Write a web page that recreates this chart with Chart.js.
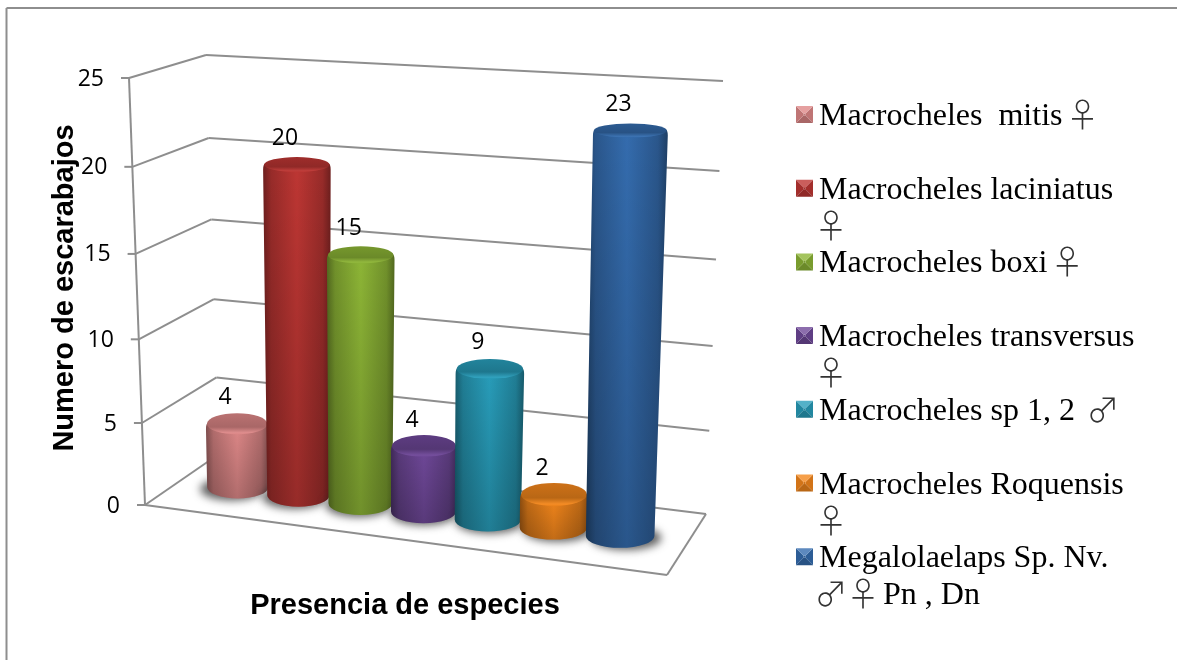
<!DOCTYPE html>
<html>
<head>
<meta charset="utf-8">
<script src="https://cdn.jsdelivr.net/npm/chart.js@4/dist/chart.umd.min.js"></script>
<style>
body { margin: 0; background: #fff; }
canvas { display: block; }
</style>
</head>
<body>
<canvas id="chart" width="1177" height="662"></canvas>
<script>
const legendLabels = [
    ['Macrocheles  mitis ♀'],
    ['Macrocheles laciniatus', '♀'],
    ['Macrocheles boxi ♀'],
    ['Macrocheles transversus', '♀'],
    ['Macrocheles sp 1, 2  ♂'],
    ['Macrocheles Roquensis', '♀'],
    ['Megalolaelaps Sp. Nv.', '♂ ♀ Pn , Dn']
];
const categories = legendLabels.map(l => l.join(' '));
const counts = [4, 20, 15, 4, 9, 2, 23];
const barColors = ['#de8888', '#bd3633', '#8db536', '#6f4899', '#289dba', '#f4871c', '#346cae'];
const yTicks = [0, 5, 10, 15, 20, 25];

const gridColor = '#8e8e8e';
const labelFont = '23px "Open Sans"';
const legendFont = '32px "Liberation Serif"';
const symbolFont = '300 33px "Noto Sans CJK JP"';
const axisFont = { family: 'Liberation Sans', size: 29, weight: 'bold' };

// corners of the 3d box, floor and top of each wall
const box = {
    frontLeft: [[145, 505], [129, 78]],
    backLeft: [[219, 454], [206, 55]],
    backRight: [[706, 514], [723, 81]],
    frontRight: [667, 575]
};

// values get a bit taller towards the top, like the perspective of the original
function lift(v) {
    return v * (0.95 + 0.05 * v);
}

// bars stand on a slanted plane half way through the box
function project(area, px, py) {
    const u = (px - area.left) / area.width;
    const v = (area.bottom - py) / area.height;
    const h = lift(v);
    return {
        x: 206 + 446 * u - 30 * (u - 0.071) * (0.929 - u) + (-6 + 18.5 * u) * h,
        y: 483 + 57 * u - (410 + 35 * u) * h,
        u: u,
        v: v
    };
}

function wallPoint(corner, v) {
    const h = lift(v);
    return [corner[0][0] + (corner[1][0] - corner[0][0]) * h, corner[0][1] + (corner[1][1] - corner[0][1]) * h];
}

function shade(hex, f) {
    const n = parseInt(hex.slice(1), 16);
    const mix = c => Math.round(f < 0 ? c * (1 + f) : c + (255 - c) * f);
    return `rgb(${mix(n >> 16)}, ${mix((n >> 8) & 255)}, ${mix(n & 255)})`;
}

function line(ctx, a, b) {
    ctx.beginPath();
    ctx.moveTo(a[0], a[1]);
    ctx.lineTo(b[0], b[1]);
    ctx.stroke();
}

function ry(y) {
    return 5.5 + 0.012 * y;
}

function drawCylinder(ctx, area, bar, color) {
    const top = project(area, bar.x, bar.y);
    const bottom = project(area, bar.x, bar.base);
    const rb = bar.width / 2 * (0.98 + 0.135 * top.u);
    const rt = rb * (1 + 0.1 * top.v);
    const ryT = ry(top.y);
    const ryB = ry(bottom.y);

    // soft floor shadow, pushed away from the middle of the chart
    ctx.save();
    ctx.filter = 'blur(4px)';
    ctx.fillStyle = 'rgba(40, 40, 40, 0.75)';
    ctx.beginPath();
    ctx.ellipse(bottom.x + (top.u - 0.5) * 14, bottom.y + 2, rb + 1, ryB, 0, 0, Math.PI * 2);
    ctx.fill();
    ctx.restore();

    const left = Math.min(top.x - rt, bottom.x - rb);
    const right = Math.max(top.x + rt, bottom.x + rb);
    const side = ctx.createLinearGradient(left, 0, right, 0);
    side.addColorStop(0, shade(color, -0.42));
    side.addColorStop(0.12, shade(color, -0.2));
    side.addColorStop(0.5, color);
    side.addColorStop(0.88, shade(color, -0.2));
    side.addColorStop(1, shade(color, -0.42));

    ctx.beginPath();
    ctx.moveTo(top.x - rt + 2, top.y - 1);
    ctx.quadraticCurveTo(top.x - rt, top.y, top.x - rt, top.y + 5);
    ctx.lineTo(bottom.x - rb, bottom.y);
    ctx.ellipse(bottom.x, bottom.y, rb, ryB, 0, Math.PI, 0, true);
    ctx.lineTo(top.x + rt, top.y + 5);
    ctx.quadraticCurveTo(top.x + rt, top.y, top.x + rt - 2, top.y - 1);
    ctx.closePath();
    ctx.fillStyle = side;
    ctx.fill();

    // darker towards the floor
    const fade = ctx.createLinearGradient(0, top.y, 0, bottom.y + ryB);
    fade.addColorStop(0, 'rgba(0, 0, 0, 0)');
    fade.addColorStop(1, 'rgba(0, 0, 0, 0.2)');
    ctx.fillStyle = fade;
    ctx.fill();

    // cap
    const cap = ctx.createLinearGradient(0, top.y - ryT, 0, top.y + ryT);
    cap.addColorStop(0, shade(color, -0.16));
    cap.addColorStop(0.65, shade(color, -0.24));
    cap.addColorStop(0.92, shade(color, 0.04));
    cap.addColorStop(1, shade(color, -0.02));
    ctx.fillStyle = cap;
    ctx.beginPath();
    ctx.ellipse(top.x, top.y, rt - 1, ryT, 0, 0, Math.PI * 2);
    ctx.fill();

    return top;
}

// sex symbols come from a wider font, each one sits in its own 24px slot
function drawLegendLine(ctx, text, x, y) {
    text.split(/([♀♂])/).forEach(part => {
        if (part === '') return;
        if (part === '♀' || part === '♂') {
            ctx.font = symbolFont;
            ctx.textAlign = 'center';
            ctx.fillStyle = '#333';
            ctx.fillText(part, x + 12, y + 2);
            ctx.fillStyle = '#000';
            ctx.textAlign = 'left';
            x += 24;
        } else {
            ctx.font = legendFont;
            ctx.fillText(part, x, y);
            x += ctx.measureText(part).width;
        }
    });
}

function drawSwatch(ctx, x0, y0, s, c) {
    const d = s / 2 - 1;
    const face = (pts, col) => {
        ctx.fillStyle = col;
        ctx.beginPath();
        pts.forEach((p, k) => k ? ctx.lineTo(p[0], p[1]) : ctx.moveTo(p[0], p[1]));
        ctx.closePath();
        ctx.fill();
    };
    const a = [x0, y0], b = [x0 + s, y0], e = [x0 + s, y0 + s], f = [x0, y0 + s];
    const ia = [x0 + d, y0 + d], ib = [x0 + s - d, y0 + d], ie = [x0 + s - d, y0 + s - d], iff = [x0 + d, y0 + s - d];
    face([b, e, ie, ib], shade(c, -0.14));
    face([e, f, iff, ie], shade(c, -0.24));
    face([f, a, ia, iff], shade(c, -0.14));
    face([ia, ib, ie, iff], shade(c, -0.14));
    face([a, b, ib, ia], shade(c, 0.2));
}

const boxPlugin = {
    id: 'box',
    beforeDraw(chart) {
        const ctx = chart.ctx;
        const yScale = chart.scales.y;
        ctx.save();
        ctx.fillStyle = '#fff';
        ctx.fillRect(0, 0, chart.width, chart.height);

        ctx.strokeStyle = gridColor;
        ctx.lineWidth = 2;
        line(ctx, [6.5, 660], [6.5, 8]);
        line(ctx, [6.5, 8], [1177, 8]);

        yScale.ticks.forEach(t => {
            const v = t.value / yScale.max;
            const front = wallPoint(box.frontLeft, v);
            const back = wallPoint(box.backLeft, v);
            const right = wallPoint(box.backRight, v);
            line(ctx, [front[0] - 8, front[1]], front);
            line(ctx, front, back);
            line(ctx, back, right);

            ctx.fillStyle = '#000';
            ctx.font = labelFont;
            ctx.textAlign = 'right';
            ctx.textBaseline = 'middle';
            ctx.fillText(t.value, front[0] - 25, front[1] + 1);
        });

        line(ctx, box.frontLeft[0], box.frontLeft[1]);
        line(ctx, box.frontLeft[0], box.frontRight);
        line(ctx, box.frontRight, box.backRight[0]);
        ctx.restore();
    },
    beforeDatasetsDraw(chart) {
        const ctx = chart.ctx;
        const area = chart.chartArea;
        const bars = chart.getDatasetMeta(0).data;
        ctx.save();
        const tops = bars.map((bar, i) => drawCylinder(ctx, area, bar, barColors[i]));
        ctx.fillStyle = '#000';
        ctx.font = labelFont;
        ctx.textAlign = 'center';
        ctx.textBaseline = 'middle';
        tops.forEach((top, i) => ctx.fillText(counts[i], top.x - 12, top.y - 26));
        ctx.restore();
        return false;
    },
    afterDraw(chart) {
        const ctx = chart.ctx;
        ctx.save();
        ctx.textAlign = 'left';
        ctx.textBaseline = 'alphabetic';
        legendLabels.forEach((lines, i) => {
            const y = 125 + i * 73.7;
            drawSwatch(ctx, 796, y - 19, 17, barColors[i]);
            ctx.fillStyle = '#000';
            drawLegendLine(ctx, lines[0], 819, y);
            if (lines[1]) drawLegendLine(ctx, lines[1], 819, y + 37);
        });
        ctx.restore();
    }
};

new Chart(document.getElementById('chart'), {
    type: 'bar',
    data: {
        labels: categories,
        datasets: [{
            data: counts,
            backgroundColor: barColors,
            barPercentage: 1,
            categoryPercentage: 0.973
        }]
    },
    options: {
        responsive: false,
        animation: false,
        devicePixelRatio: 1,
        layout: { padding: { left: 48, top: 74, right: 549, bottom: 39 } },
        plugins: { legend: { display: false }, tooltip: { enabled: false } },
        scales: {
            x: {
                grid: { display: false },
                border: { display: false },
                ticks: { display: false },
                title: { display: true, text: 'Presencia de especies', color: '#000', font: axisFont, padding: 0 },
                afterFit(scale) { scale.height = 121; }
            },
            y: {
                min: 0,
                max: 25,
                afterBuildTicks(scale) { scale.ticks = yTicks.map(v => ({ value: v })); },
                grid: { display: false },
                border: { display: false },
                ticks: { display: false },
                title: { display: true, text: 'Numero de escarabajos', color: '#000', font: axisFont, padding: 0 },
                afterFit(scale) { scale.width = 134; }
            }
        }
    },
    plugins: [boxPlugin]
});
</script>
</body>
</html>
